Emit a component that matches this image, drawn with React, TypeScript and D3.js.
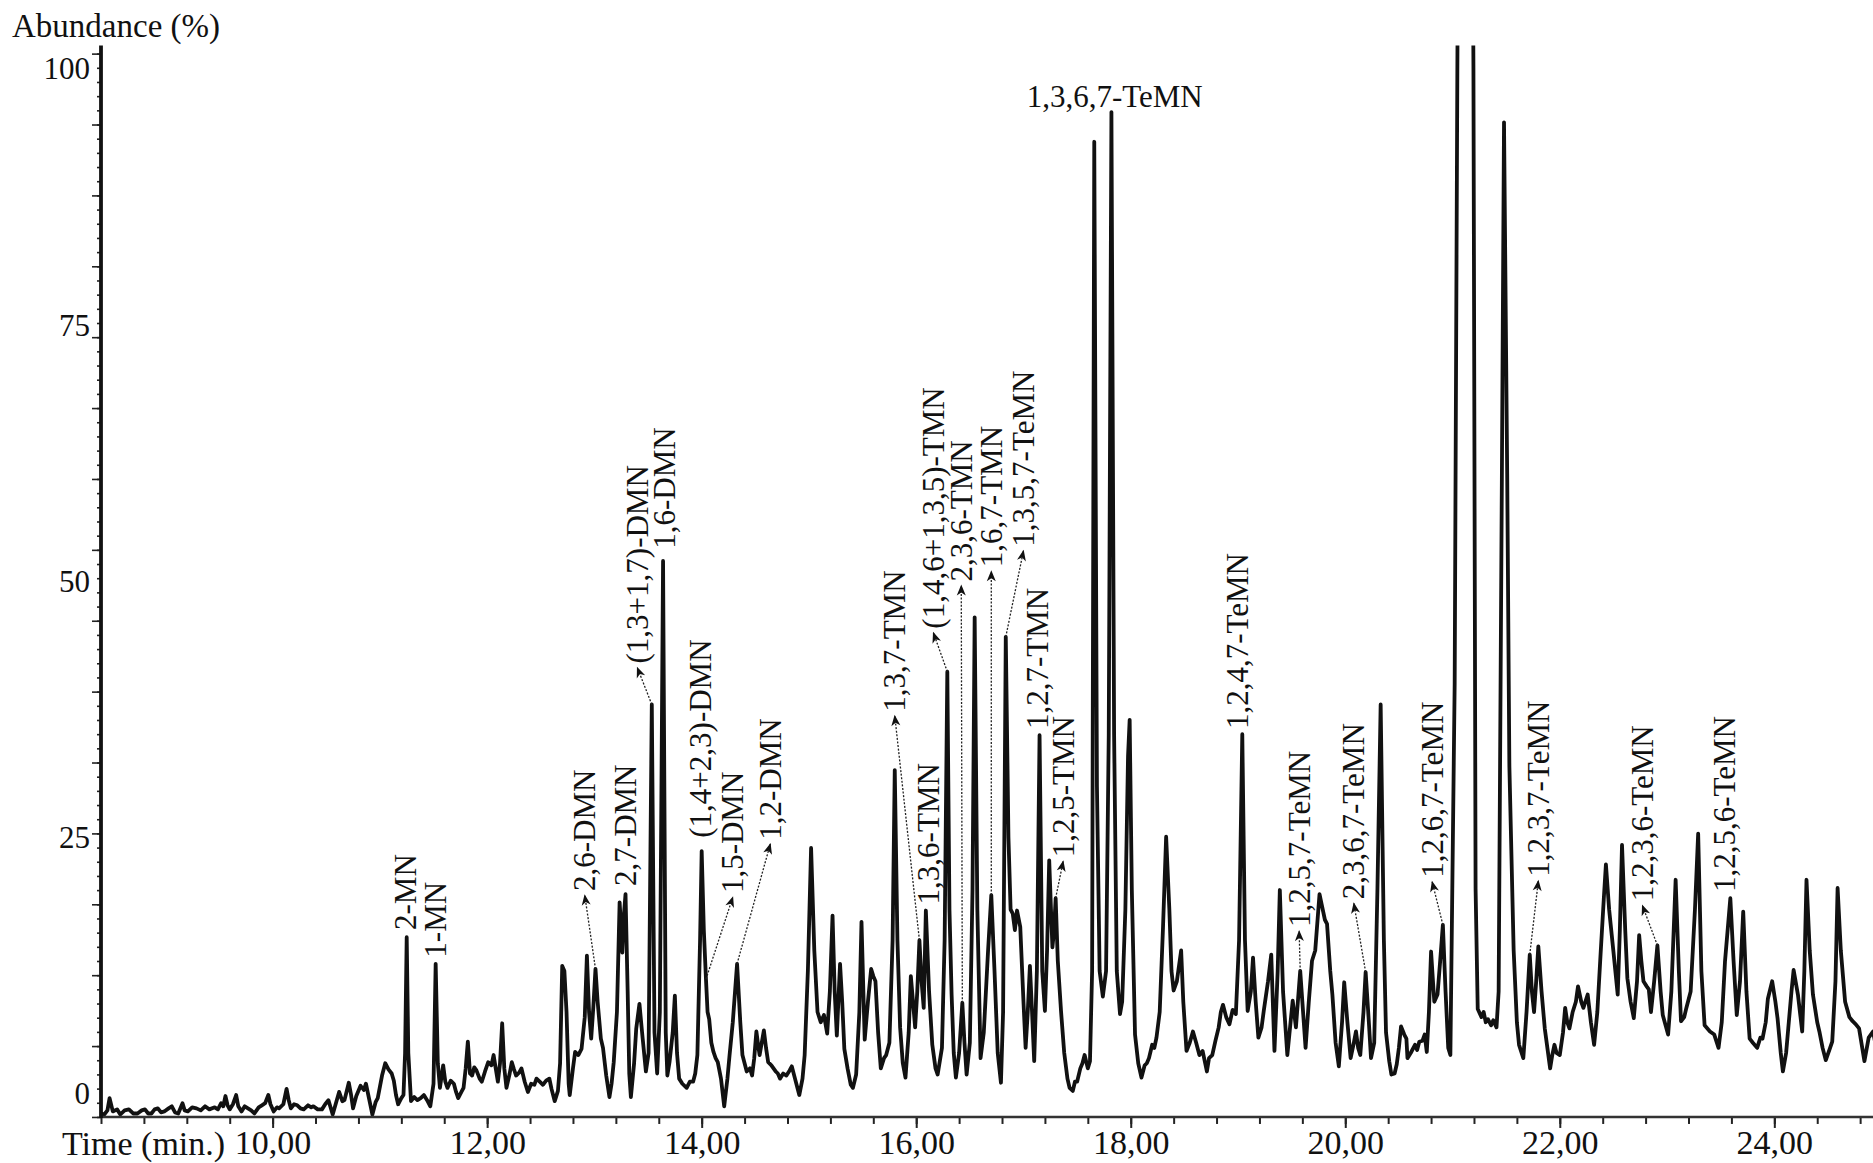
import React, { useEffect, useRef } from 'react';
import * as d3 from 'd3';

type Point = [number, number];

// Chromatogram trace: [retention time (min), abundance (%)]
const baselineTrace: Point[] = [
  [8.40, -1.9], [8.43, -2.0], [8.46, -1.6], [8.48, -0.4], [8.51, -1.7], [8.55, -1.5], [8.58, -2.0], [8.62, -1.6],
  [8.66, -1.5], [8.70, -1.9], [8.74, -1.9], [8.78, -1.6], [8.81, -1.5], [8.84, -1.9], [8.87, -1.9], [8.90, -1.5],
  [8.93, -1.4], [8.96, -1.8], [8.99, -1.7], [9.03, -1.4], [9.06, -1.2], [9.09, -1.8], [9.12, -1.9], [9.16, -0.9],
  [9.18, -1.6], [9.21, -1.7], [9.25, -1.3], [9.29, -1.4], [9.33, -1.6], [9.37, -1.2], [9.41, -1.5], [9.46, -1.3],
  [9.49, -1.5], [9.52, -0.9], [9.54, -1.2], [9.56, -0.2], [9.58, -1.1], [9.60, -1.5], [9.63, -1.0], [9.66, -0.1],
  [9.68, -1.2], [9.71, -1.7], [9.74, -1.2], [9.77, -1.4], [9.80, -1.6], [9.83, -1.9], [9.87, -1.3], [9.90, -1.1],
  [9.93, -0.9], [9.96, -0.1], [9.98, -1.0], [10.01, -1.7], [10.04, -1.3], [10.06, -1.4], [10.10, -1.0], [10.13, 0.5],
  [10.15, -0.6], [10.17, -1.4], [10.20, -1.0], [10.23, -1.1], [10.26, -1.4], [10.29, -1.5], [10.33, -1.1], [10.36, -1.3],
  [10.38, -1.2], [10.42, -1.5], [10.46, -1.5], [10.49, -1.0], [10.52, -0.6], [10.54, -1.3], [10.56, -2.0], [10.59, -0.9],
  [10.62, 0.2], [10.65, -0.7], [10.67, -0.6], [10.71, 1.1], [10.73, 0.0], [10.75, -1.4], [10.78, -0.2], [10.82, 0.8],
  [10.85, 0.4], [10.87, 1.0], [10.90, -0.5], [10.93, -2.0], [10.96, -0.8], [10.98, -0.4], [11.02, 1.8], [11.05, 3.0],
  [11.08, 2.4], [11.11, 2.0], [11.13, 1.3], [11.15, -0.1], [11.17, -1.0], [11.20, -0.4], [11.22, -0.1],
];

// methyl- and dimethylnaphthalenes
const dmnTrace: Point[] = [
  [11.235, 4], [11.25, 15.3], [11.265, 4], [11.29, -0.7], [11.32, -0.3], [11.35, -0.6], [11.38, -0.4], [11.41, -0.1],
  [11.44, -0.6], [11.47, -1.2], [11.50, 1.0], [11.52, 12.7], [11.54, 3.0], [11.56, 0.6], [11.59, 2.8], [11.61, 1.2],
  [11.63, 0.6], [11.66, 1.3], [11.69, 1.0], [11.71, 0.2], [11.73, -0.4], [11.76, 0.2], [11.78, 0.6], [11.80, 2.5],
  [11.82, 5.1], [11.84, 2.0], [11.86, 1.8], [11.88, 2.6], [11.90, 2.3], [11.93, 1.5], [11.95, 1.2], [11.98, 2.2],
  [12.01, 3.1], [12.04, 2.8], [12.06, 3.8], [12.08, 2.5], [12.10, 1.2], [12.12, 3.0], [12.14, 6.9], [12.16, 2.5],
  [12.18, 0.6], [12.21, 2.0], [12.23, 3.1], [12.25, 2.4], [12.27, 1.8], [12.30, 2.1], [12.32, 2.5], [12.35, 1.2],
  [12.38, 0.2], [12.41, 1.0], [12.44, 0.9], [12.46, 1.5], [12.49, 1.2], [12.52, 0.9], [12.55, 1.3], [12.58, 1.5],
  [12.60, 0.5], [12.63, -0.7], [12.66, 0.3], [12.68, 3.0], [12.70, 12.5], [12.72, 12.0], [12.74, 8.0], [12.76, 1.0],
  [12.77, -0.1], [12.80, 2.5], [12.82, 4.1], [12.85, 3.8], [12.88, 4.4], [12.91, 7.5], [12.93, 13.5], [12.95, 8.0],
  [12.97, 5.4], [12.99, 8.5], [13.01, 12.2], [13.03, 9.0], [13.06, 5.4], [13.08, 4.5], [13.11, 1.8], [13.14, -0.3],
  [13.16, 1.0], [13.18, 3.1], [13.21, 8.0], [13.235, 18.7], [13.25, 16.0], [13.26, 13.8], [13.275, 17.5], [13.29, 19.5],
  [13.31, 10.0], [13.325, 2.0], [13.34, -0.3], [13.37, 3.0], [13.39, 6.4], [13.42, 8.8], [13.44, 6.5], [13.45, 5.4],
  [13.48, 2.2], [13.505, 4], [13.535, 38.0], [13.56, 6], [13.585, 2.0], [13.61, 8], [13.64, 52.0], [13.665, 6],
  [13.68, 1.8], [13.70, 3.1], [13.73, 6], [13.75, 9.6], [13.77, 4], [13.79, 1.5], [13.82, 1.0], [13.86, 0.6],
  [13.89, 1.2], [13.92, 1.2], [13.94, 2.0], [13.96, 3.8], [13.985, 15], [14.00, 23.7], [14.02, 16], [14.04, 11.2],
  [14.055, 8], [14.07, 7.3], [14.09, 5], [14.11, 4.1], [14.13, 3.5], [14.15, 3.1], [14.18, 1.5], [14.21, -1.2],
  [14.24, 1.5], [14.26, 3.8], [14.29, 7], [14.33, 12.7], [14.36, 7], [14.38, 3.8], [14.40, 3.0], [14.42, 2.2],
  [14.45, 2.5], [14.47, 1.8], [14.49, 3.5], [14.51, 6.1], [14.53, 4.5], [14.54, 3.8], [14.56, 5], [14.58, 6.2],
  [14.60, 4.5], [14.62, 3.1], [14.65, 2.8], [14.69, 2.2], [14.71, 2.0], [14.73, 1.5], [14.76, 2.0], [14.79, 1.8],
  [14.82, 2.3], [14.84, 2.7], [14.87, 1.5], [14.91, -0.1], [14.94, 1.5], [14.96, 3.8], [14.99, 12], [15.02, 24.0],
  [15.05, 14], [15.08, 8], [15.11, 7.0], [15.14, 7.7], [15.17, 5.9], [15.195, 10], [15.22, 17.4], [15.24, 10],
  [15.26, 5.7], [15.29, 12.7], [15.31, 9], [15.33, 4.4], [15.36, 2.5], [15.39, 0.9],
];

// trimethylnaphthalenes and the 1,3,6,7-TeMN pair
const tmnTrace: Point[] = [
  [15.41, 0.6], [15.44, 1.9], [15.47, 8], [15.49, 16.8], [15.51, 9], [15.52, 5.3], [15.55, 9], [15.58, 12.2],
  [15.60, 11.5], [15.62, 11.0], [15.645, 6], [15.67, 2.5], [15.70, 3.5], [15.72, 3.8], [15.75, 5], [15.78, 15],
  [15.80, 31.6], [15.825, 15], [15.85, 6.5], [15.875, 3], [15.90, 1.6], [15.93, 6], [15.95, 11.5], [15.97, 9],
  [15.99, 6.5], [16.01, 10], [16.03, 15.0], [16.05, 11], [16.07, 8.4], [16.09, 17.9], [16.12, 10], [16.15, 4.8],
  [16.18, 2.5], [16.20, 1.9], [16.24, 4.5], [16.265, 15], [16.29, 41.2], [16.31, 18], [16.33, 9.7], [16.35, 4],
  [16.37, 1.6], [16.40, 4], [16.43, 8.9], [16.45, 5], [16.47, 1.9], [16.50, 5], [16.525, 20], [16.545, 46.5],
  [16.57, 18], [16.60, 3.5], [16.63, 6], [16.67, 14], [16.70, 19.4], [16.73, 12], [16.76, 4], [16.79, 1.1],
  [16.81, 8], [16.835, 44.6], [16.86, 25], [16.88, 18], [16.90, 17.6], [16.92, 16], [16.94, 17.9], [16.97, 16.3],
  [17.00, 9], [17.02, 4.5], [17.04, 8], [17.06, 12.5], [17.08, 8], [17.10, 3.2], [17.125, 12], [17.15, 35.0],
  [17.175, 12], [17.20, 8.1], [17.22, 14], [17.24, 22.8], [17.26, 17], [17.27, 14.3], [17.285, 16], [17.30, 19.1],
  [17.32, 13], [17.35, 8.1], [17.38, 4], [17.41, 1.5], [17.43, 0.6], [17.46, 0.3], [17.48, 1.2], [17.50, 1.2],
  [17.53, 2.5], [17.55, 3.0], [17.57, 3.8], [17.60, 2.5], [17.62, 3.2], [17.64, 12], [17.66, 92.9], [17.685, 30],
  [17.71, 12], [17.74, 9.5], [17.77, 12], [17.795, 35], [17.82, 95.8], [17.845, 35], [17.87, 12], [17.90, 7.8],
  [17.92, 9], [17.95, 18], [17.975, 33], [17.99, 36.5],
];

// tetramethylnaphthalenes
const temnTrace: Point[] = [
  [18.01, 20], [18.04, 5.8], [18.07, 3], [18.10, 1.6], [18.13, 2.8], [18.15, 3.0], [18.17, 3.5], [18.20, 4.8],
  [18.22, 4.5], [18.24, 5.5], [18.27, 8], [18.30, 16], [18.33, 25.1], [18.36, 18], [18.38, 12], [18.40, 10.1],
  [18.43, 11], [18.47, 14.0], [18.49, 9], [18.52, 4.2], [18.55, 5], [18.58, 6.1], [18.61, 5], [18.64, 3.8],
  [18.67, 4.2], [18.71, 2.2], [18.73, 3.5], [18.76, 3.8], [18.79, 5.2], [18.82, 6.5], [18.84, 8], [18.86, 8.7],
  [18.89, 7.5], [18.92, 6.8], [18.95, 8.2], [18.98, 7.8], [19.01, 15], [19.04, 35.1], [19.065, 15], [19.09, 8.1],
  [19.12, 10], [19.14, 13.3], [19.165, 9], [19.19, 5.5], [19.22, 6.5], [19.24, 8.1], [19.28, 11], [19.31, 13.6],
  [19.34, 4.2], [19.37, 12], [19.39, 19.9], [19.42, 10], [19.46, 3.8], [19.49, 7], [19.51, 9.1], [19.54, 6.5],
  [19.58, 12.0], [19.60, 9], [19.63, 4.5], [19.66, 9], [19.69, 13.0], [19.72, 14], [19.76, 19.5], [19.78, 18.5],
  [19.81, 17], [19.83, 16.6], [19.86, 12], [19.88, 9.7], [19.91, 5], [19.94, 2.7], [19.97, 7], [19.99, 10.9],
  [20.02, 7], [20.05, 3.5], [20.08, 5], [20.10, 6.1], [20.12, 4.5], [20.14, 3.8], [20.17, 8], [20.19, 11.9],
  [20.22, 7], [20.24, 3.5], [20.27, 5], [20.30, 20], [20.33, 38.0], [20.36, 15], [20.38, 6], [20.41, 3.2],
  [20.43, 1.9], [20.46, 2.0], [20.48, 2.9], [20.50, 4.5], [20.52, 6.6], [20.55, 5.8], [20.57, 5.4], [20.58, 3.5],
  [20.61, 4.0], [20.65, 4.8], [20.67, 4.3], [20.69, 5.1], [20.72, 5.2], [20.74, 5.8], [20.76, 4.1], [20.78, 8],
  [20.80, 13.9], [20.83, 9.0], [20.86, 9.7], [20.885, 13], [20.91, 16.5], [20.935, 10], [20.96, 4.5], [20.98, 3.8],
  [21.02, 40], [21.045, 100], [21.06, 130], [21.18, 130], [21.195, 100], [21.215, 20], [21.235, 8.3], [21.27, 7.5],
  [21.29, 8.0], [21.31, 7.0], [21.33, 7.3], [21.36, 6.7], [21.38, 7.2], [21.41, 6.5], [21.43, 10], [21.46, 60],
  [21.48, 94.8], [21.51, 60], [21.53, 32], [21.57, 14], [21.60, 7], [21.62, 4.8], [21.66, 3.5], [21.69, 8],
  [21.72, 13.6], [21.74, 10], [21.76, 8.0], [21.78, 11], [21.80, 14.4], [21.83, 10], [21.86, 6.4], [21.91, 2.5],
  [21.93, 3.8], [21.95, 4.8], [21.97, 4.0], [22.00, 3.8], [22.03, 6], [22.05, 8.4], [22.07, 7.0], [22.09, 6.4],
  [22.12, 8], [22.15, 9], [22.17, 10.5], [22.20, 9], [22.22, 8.4], [22.26, 9.7], [22.29, 7], [22.32, 4.8],
  [22.35, 8], [22.38, 13.6], [22.41, 19], [22.43, 22.4], [22.46, 18], [22.50, 13.9], [22.54, 9.7], [22.56, 16],
  [22.58, 24.3], [22.61, 16], [22.63, 11.3], [22.66, 9], [22.69, 7.4], [22.72, 11], [22.74, 15.5], [22.76, 13],
  [22.78, 11.0], [22.81, 10.5], [22.83, 10.2], [22.85, 8.0], [22.88, 11], [22.91, 14.5], [22.94, 10], [22.96, 7.7],
  [23.01, 5.8], [23.04, 10], [23.08, 20.9], [23.11, 12], [23.13, 7.1], [23.16, 7.5], [23.18, 8.4], [23.22, 10],
  [23.26, 18], [23.29, 25.4], [23.32, 12], [23.35, 6.7], [23.40, 6.1], [23.44, 5.8], [23.48, 4.5], [23.51, 7],
  [23.54, 12.9], [23.59, 19.1], [23.62, 13], [23.65, 7.7], [23.68, 11], [23.71, 17.8], [23.74, 10], [23.77, 5.4],
  [23.80, 5.0], [23.84, 4.5], [23.87, 5.5], [23.89, 5.4], [23.92, 7], [23.94, 9.3], [23.98, 11.0], [24.01, 9],
  [24.03, 7.4], [24.06, 4], [24.08, 2.2], [24.11, 4], [24.13, 6.4], [24.16, 10], [24.18, 12.1], [24.22, 9.7],
  [24.26, 6.1], [24.28, 12], [24.30, 20.9], [24.33, 14], [24.36, 9.7], [24.40, 7], [24.42, 6.1], [24.45, 4.5],
  [24.48, 3.3], [24.52, 4.5], [24.54, 5.1], [24.57, 11], [24.59, 20.1], [24.62, 14], [24.66, 9.0], [24.70, 7.5],
  [24.73, 7.1], [24.76, 6.8], [24.79, 6.4], [24.84, 3.2], [24.88, 5.5], [24.92, 6.1], [24.95, 4.5],
];

// peak labels: where the text starts (time, abundance)
const peakNames = [
  '2-MN', '1-MN', '2,6-DMN', '2,7-DMN', '(1,3+1,7)-DMN', '1,6-DMN', '(1,4+2,3)-DMN', '1,5-DMN', '1,2-DMN',
  '1,3,7-TMN', '1,3,6-TMN', '(1,4,6+1,3,5)-TMN', '2,3,6-TMN', '1,6,7-TMN', '1,3,5,7-TeMN', '1,2,7-TMN', '1,2,5-TMN',
  '1,3,6,7-TeMN', '1,2,4,7-TeMN', '1,2,5,7-TeMN', '2,3,6,7-TeMN', '1,2,6,7-TeMN', '1,2,3,7-TeMN', '1,2,3,6-TeMN',
  '1,2,5,6-TeMN',
];
const labelTimes = [
  11.24, 11.52, 12.91, 13.29, 13.40, 13.65, 13.99, 14.29, 14.64,
  15.80, 16.11, 16.16, 16.42, 16.70, 17.00, 17.13, 17.37,
  17.03, 19.00, 19.57, 20.08, 20.81, 21.80, 22.77,
  23.54,
];
const labelLevels = [
  16.0, 13.3, 19.8, 20.3, 42.0, 53.2, 25.0, 19.6, 24.8,
  37.3, 18.5, 45.4, 50.0, 51.4, 53.4, 35.6, 23.1,
  96.3, 35.6, 16.3, 19.0, 21.1, 21.2, 18.8,
  19.7,
];
// only the top label is written horizontally
const labelUpright = peakNames.map(n => n === '1,3,6,7-TeMN');
// dotted arrows: the peak each label points from (null = label sits on its peak)
const arrowTimes = [
  null, null, 13.01, null, 13.535, null, null, 14.04, 14.33,
  16.03, null, 16.29, 16.43, 16.70, 16.835, null, 17.30,
  null, null, 19.58, 20.19, 20.91, 21.72, 22.91,
  null,
];
const arrowLevels = [
  null, null, 12.2, null, 38.0, null, null, 11.2, 12.7,
  15.0, null, 41.2, 8.9, 19.4, 44.6, null, 19.1,
  null, null, 12.0, 11.9, 16.5, 13.6, 14.5,
  null,
];

const timeTicks = [10, 12, 14, 16, 18, 20, 22, 24];
const abundanceTicks = [0, 25, 50, 75, 100];

const FONT = "'Liberation Serif', 'Times New Roman', serif";

const Chromatogram = () => {
  const svgRef = useRef<SVGSVGElement | null>(null);

  useEffect(() => {
    const width = 1873;
    const height = 1163;

    const svg = d3.select(svgRef.current);
    svg.selectAll('*').remove();
    svg.attr('width', width).attr('height', height);

    const x = d3.scaleLinear().domain([8.4, 24.92]).range([101, 1873]);
    const y = d3.scaleLinear().domain([0, 100]).range([1094, 69]);

    const axisBottomValue = -2.24;
    const axisTopValue = 102.3;
    const x0 = x(8.4);
    const yBase = y(axisBottomValue);

    svg.append('rect').attr('width', width).attr('height', height).attr('fill', '#fff');

    const defs = svg.append('defs');
    defs.append('clipPath').attr('id', 'plot-clip')
      .append('rect')
      .attr('x', x0)
      .attr('y', y(axisTopValue))
      .attr('width', width - x0)
      .attr('height', yBase - y(axisTopValue));
    defs.append('marker')
      .attr('id', 'arrow-head')
      .attr('viewBox', '-12 -6 14 12')
      .attr('refX', 0)
      .attr('refY', 0)
      .attr('markerWidth', 14)
      .attr('markerHeight', 12)
      .attr('markerUnits', 'userSpaceOnUse')
      .attr('orient', 'auto')
      .append('path')
      .attr('d', 'M1,0 L-10,-4.5 L-7,0 L-10,4.5 Z')
      .attr('fill', '#111');

    // trace
    const trace = [...baselineTrace, ...dmnTrace, ...tmnTrace, ...temnTrace];
    const line = d3.line<Point>().x(d => x(d[0])).y(d => y(d[1]));
    svg.append('path')
      .datum(trace)
      .attr('clip-path', 'url(#plot-clip)')
      .attr('d', line)
      .attr('fill', 'none')
      .attr('stroke', '#111')
      .attr('stroke-width', 3.8)
      .attr('stroke-linejoin', 'round');

    // x axis: minor ticks every 0.4 min, labelled every 2 min
    const xAxisG = svg.append('g').attr('transform', `translate(0, ${yBase})`);
    xAxisG.append('g')
      .call(d3.axisBottom(x).tickValues(d3.range(8.4, 24.95, 0.4)).tickSize(7).tickFormat(() => ''))
      .call(g => g.select('.domain').remove());
    xAxisG.append('g')
      .call(d3.axisBottom(x).tickValues(timeTicks).tickSize(11).tickPadding(2)
        .tickFormat(d => (d as number).toFixed(2).replace('.', ',')))
      .call(g => g.select('.domain').remove())
      .call(g => g.selectAll('text').style('font-family', FONT).style('font-size', '34px').attr('fill', '#111'));
    xAxisG.selectAll('line').attr('stroke', '#222').attr('stroke-width', 2);
    svg.append('line')
      .attr('x1', x0).attr('x2', width)
      .attr('y1', yBase).attr('y2', yBase)
      .attr('stroke', '#333').attr('stroke-width', 2.5);

    // y axis: tick marks of the instrument scale, labelled in %
    const markScale = d3.scaleLinear().domain([0, 15]).range([yBase, y(101.5)]);
    const yAxisG = svg.append('g').attr('transform', `translate(${x0}, 0)`);
    yAxisG.append('g')
      .call(d3.axisLeft(markScale).tickValues(d3.range(0, 15.01, 0.2)).tickSize(4).tickFormat(() => ''))
      .call(g => g.select('.domain').remove());
    yAxisG.append('g')
      .call(d3.axisLeft(markScale).tickValues(d3.range(0, 16, 1)).tickSize(9).tickFormat(() => ''))
      .call(g => g.select('.domain').remove());
    yAxisG.selectAll('line').attr('stroke', '#222').attr('stroke-width', 1.6);
    yAxisG.append('g')
      .call(d3.axisLeft(y).tickValues(abundanceTicks).tickSize(0).tickPadding(11))
      .call(g => g.select('.domain').remove())
      .call(g => g.selectAll('text').style('font-family', FONT).style('font-size', '31px').attr('fill', '#111'));
    svg.append('line')
      .attr('x1', x0).attr('x2', x0)
      .attr('y1', y(axisTopValue)).attr('y2', yBase + 1)
      .attr('stroke', '#111').attr('stroke-width', 3.8);

    // axis titles
    svg.append('text')
      .attr('x', 12).attr('y', 37)
      .style('font-family', FONT).style('font-size', '33px').attr('fill', '#111')
      .text('Abundance (%)');
    svg.append('text')
      .attr('x', 62).attr('y', yBase + 38)
      .style('font-family', FONT).style('font-size', '34px').attr('fill', '#111')
      .text('Time (min.)');

    // dotted arrows from peaks to their labels
    peakNames.forEach((name, i) => {
      const t0 = arrowTimes[i];
      const v0 = arrowLevels[i];
      if (t0 == null || v0 == null) return;
      svg.append('line')
        .attr('x1', x(t0)).attr('y1', y(v0))
        .attr('x2', x(labelTimes[i])).attr('y2', y(labelLevels[i] - 0.4))
        .attr('stroke', '#222')
        .attr('stroke-width', 1.3)
        .attr('stroke-dasharray', '2 1.6')
        .attr('marker-end', 'url(#arrow-head)');
    });

    // peak labels
    peakNames.forEach((name, i) => {
      const px = x(labelTimes[i]);
      const py = y(labelLevels[i]);
      const label = svg.append('text')
        .style('font-family', FONT)
        .style('font-size', '31px')
        .attr('fill', '#111')
        .text(name);
      if (labelUpright[i]) {
        label.attr('x', px).attr('y', py);
      } else {
        label
          .attr('transform', `translate(${px}, ${py}) rotate(-90)`)
          .attr('dominant-baseline', 'central');
      }
    });
  }, []);

  return (
    <div style={{ position: 'absolute', left: 0, top: 0, width: 1873, height: 1163, background: '#fff' }}>
      <svg ref={svgRef} style={{ display: 'block' }}></svg>
    </div>
  );
};

export default function App() {
  return <Chromatogram />;
}
